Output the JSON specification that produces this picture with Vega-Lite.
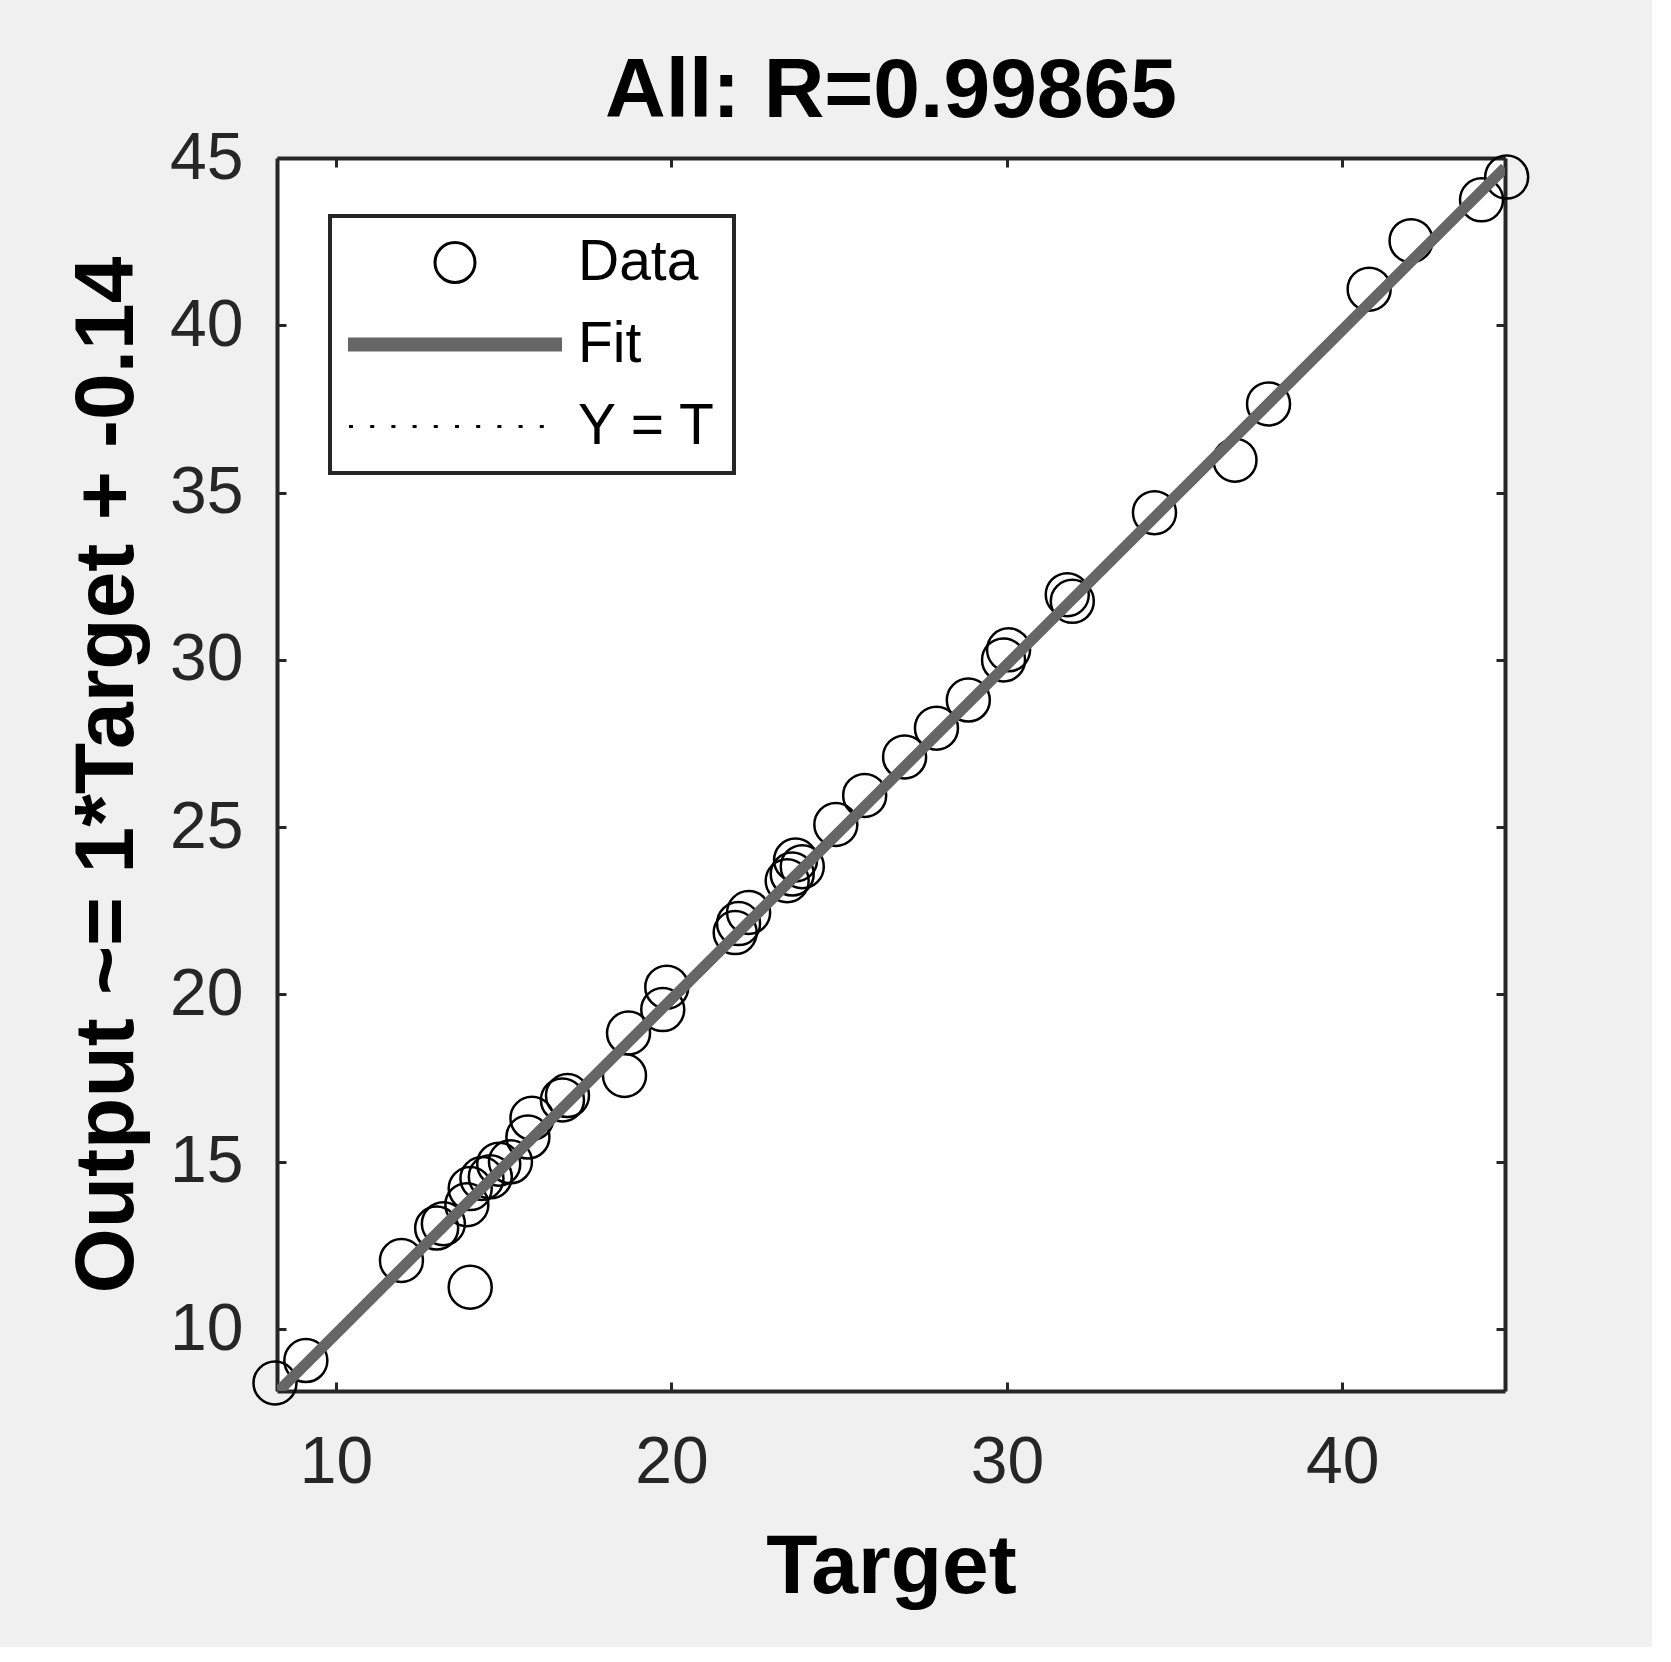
{
  "$schema": "https://vega.github.io/schema/vega-lite/v6.json",
  "width": 1228,
  "height": 1233,
  "autosize": {"type": "none"},
  "padding": {"left": 277, "top": 158, "right": 147, "bottom": 256},
  "background": "#f0f0f0",
  "title": {"text": "All: R=0.99865", "fontSize": 84, "font": "Liberation Sans", "fontWeight": "bold", "color": "#000000", "offset": -10, "anchor": "middle"},
  "config": {
    "view": {"fill": "#ffffff", "stroke": null},
    "axis": {
      "labelFont": "Liberation Sans", "labelFontSize": 66, "labelColor": "#262626",
      "titleFont": "Liberation Sans", "titleFontSize": 84, "titleFontWeight": "bold", "titleColor": "#000000",
      "domainColor": "#262626", "domainWidth": 4, "tickColor": "#262626", "tickWidth": 3, "tickSize": -9,
      "grid": false, "labelFlush": false, "labelOverlap": false, "zindex": 1
    },
    "legend": {
      "labelFont": "Liberation Sans", "labelFontSize": 57, "labelColor": "#000000", "labelLimit": 400,
      "symbolSize": 1600, "symbolStrokeWidth": 3, "symbolOffset": 78.5, "labelOffset": 94.5,
      "padding": 18, "rowPadding": 24,
      "strokeColor": "#262626", "strokeWidth": 4, "fillColor": "#ffffff",
      "symbolFillColor": "transparent"
    }
  },
  "datasets": {
    "points": [
      {"series": "Data", "target": 8.18, "output": 8.39},
      {"series": "Data", "target": 9.10, "output": 9.06},
      {"series": "Data", "target": 11.95, "output": 12.05},
      {"series": "Data", "target": 13.00, "output": 13.02},
      {"series": "Data", "target": 13.20, "output": 13.15},
      {"series": "Data", "target": 13.90, "output": 13.72},
      {"series": "Data", "target": 14.00, "output": 11.25},
      {"series": "Data", "target": 14.00, "output": 14.20},
      {"series": "Data", "target": 14.35, "output": 14.50},
      {"series": "Data", "target": 14.60, "output": 14.55},
      {"series": "Data", "target": 14.85, "output": 14.93},
      {"series": "Data", "target": 15.20, "output": 15.00},
      {"series": "Data", "target": 15.72, "output": 15.74},
      {"series": "Data", "target": 15.84, "output": 16.30},
      {"series": "Data", "target": 16.75, "output": 16.85},
      {"series": "Data", "target": 16.90, "output": 16.98},
      {"series": "Data", "target": 18.60, "output": 17.58},
      {"series": "Data", "target": 18.72, "output": 18.85},
      {"series": "Data", "target": 19.74, "output": 19.55},
      {"series": "Data", "target": 19.86, "output": 20.22},
      {"series": "Data", "target": 21.90, "output": 21.85},
      {"series": "Data", "target": 22.00, "output": 22.12},
      {"series": "Data", "target": 22.30, "output": 22.45},
      {"series": "Data", "target": 23.45, "output": 23.40},
      {"series": "Data", "target": 23.60, "output": 23.60},
      {"series": "Data", "target": 23.70, "output": 24.02},
      {"series": "Data", "target": 23.90, "output": 23.82},
      {"series": "Data", "target": 24.90, "output": 25.08},
      {"series": "Data", "target": 25.76, "output": 25.95},
      {"series": "Data", "target": 26.95, "output": 27.10},
      {"series": "Data", "target": 27.90, "output": 27.96},
      {"series": "Data", "target": 28.85, "output": 28.80},
      {"series": "Data", "target": 29.90, "output": 30.00},
      {"series": "Data", "target": 30.05, "output": 30.30},
      {"series": "Data", "target": 31.80, "output": 31.95},
      {"series": "Data", "target": 31.95, "output": 31.75},
      {"series": "Data", "target": 34.40, "output": 34.40},
      {"series": "Data", "target": 36.80, "output": 35.97},
      {"series": "Data", "target": 37.80, "output": 37.65},
      {"series": "Data", "target": 40.80, "output": 41.08},
      {"series": "Data", "target": 42.05, "output": 42.53},
      {"series": "Data", "target": 44.15, "output": 43.75},
      {"series": "Data", "target": 44.90, "output": 44.43}
    ],
    "lines": [
      {"series": "Fit", "target": 8.29, "output": 8.15},
      {"series": "Fit", "target": 44.85, "output": 44.71},
      {"series": "Y = T", "target": 8.24, "output": 8.24},
      {"series": "Y = T", "target": 44.85, "output": 44.85}
    ]
  },
  "layer": [
    {
      "data": {"name": "points"},
      "mark": {"type": "point", "filled": false, "strokeWidth": 2.5, "opacity": 1, "size": 1849},
      "encoding": {
        "x": {"field": "target", "type": "quantitative",
              "scale": {"domain": [8.24, 44.85], "nice": false, "zero": false},
              "axis": {"orient": "bottom", "values": [10, 20, 30, 40], "title": "Target", "labelPadding": 48, "titlePadding": 31}},
        "y": {"field": "output", "type": "quantitative",
              "scale": {"domain": [8.15, 45], "nice": false, "zero": false},
              "axis": {"orient": "left", "values": [10, 15, 20, 25, 30, 35, 40, 45], "title": "Output ~= 1*Target + -0.14", "labelPadding": 43, "titlePadding": 19}},
        "color": {"field": "series", "type": "nominal",
                  "scale": {"domain": ["Data", "Fit", "Y = T"], "range": ["#000000", "#666666", "#000000"]},
                  "legend": {"title": null, "orient": "none", "legendX": 53, "legendY": 58, "direction": "vertical"}},
        "shape": {"field": "series", "type": "nominal",
                  "scale": {"domain": ["Data", "Fit", "Y = T"], "range": [
                    "circle",
                    "M-5.35,0L5.35,0M-5.35,-0.1L5.35,-0.1M-5.35,0.1L5.35,0.1M-5.35,-0.2L5.35,-0.2M-5.35,0.2L5.35,0.2M-5.35,-0.28L5.35,-0.28M-5.35,0.28L5.35,0.28",
                    "M-5.3,0L-5.1,0M-4.24,0L-4.04,0M-3.18,0L-2.98,0M-2.12,0L-1.92,0M-1.06,0L-0.86,0M0,0L0.2,0M1.06,0L1.26,0M2.12,0L2.32,0M3.18,0L3.38,0M4.24,0L4.44,0"
                  ]},
                  "legend": {"title": null, "orient": "none", "legendX": 53, "legendY": 58, "direction": "vertical"}}
      }
    },
    {
      "data": {"name": "lines"},
      "transform": [{"filter": "datum.series === 'Y = T'"}],
      "mark": {"type": "line", "color": "#000000", "strokeWidth": 2, "strokeDash": [2, 6], "clip": true},
      "encoding": {
        "x": {"field": "target", "type": "quantitative", "axis": null},
        "y": {"field": "output", "type": "quantitative", "axis": null}
      }
    },
    {
      "data": {"name": "lines"},
      "transform": [{"filter": "datum.series === 'Fit'"}],
      "mark": {"type": "line", "color": "#666666", "strokeWidth": 11, "strokeCap": "butt", "clip": true},
      "encoding": {
        "x": {"field": "target", "type": "quantitative", "axis": {"orient": "top", "values": [10, 20, 30, 40], "labels": false, "title": null}},
        "y": {"field": "output", "type": "quantitative", "axis": {"orient": "right", "values": [10, 15, 20, 25, 30, 35, 40, 45], "labels": false, "title": null}}
      }
    }
  ],
  "resolve": {"axis": {"x": "independent", "y": "independent"}}
}
